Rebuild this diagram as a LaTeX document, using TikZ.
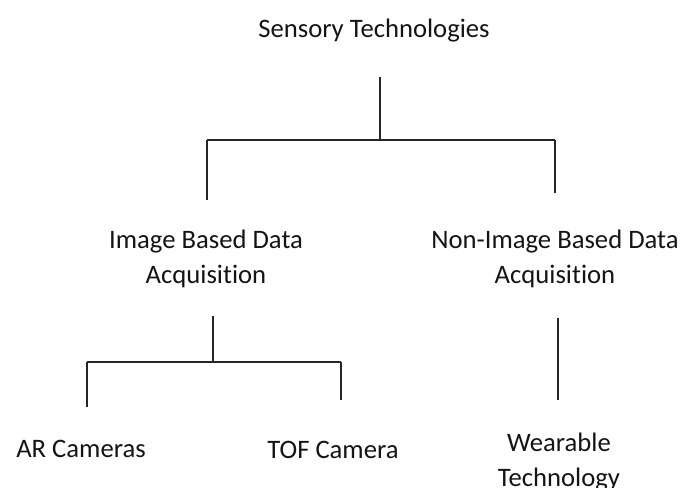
\documentclass[tikz,border=0pt]{standalone}
\usepackage{fontspec}
\setmainfont{Carlito}[Ligatures=NoCommon]
\begin{document}
\begin{tikzpicture}[x=0.75pt,y=-0.75pt,
  label text/.style={inner sep=0pt, anchor=base, align=center,
    font=\fontsize{20}{26.25}\selectfont, text=black!92},
  tree line/.style={draw=black!85, line width=1pt}]
\useasboundingbox (0,0) rectangle (681,488);

% level 0
\node[label text] (root) at (374,38) {Sensory Technologies};

% level 1 (anchored at the baseline of the last line)
\node[label text] (img) at (206,283) {Image Based Data\\Acquisition};
\node[label text] (nonimg) at (555,283) {Non-Image Based Data\\Acquisition};

% level 2
\node[label text] (ar) at (81,457) {AR Cameras};
\node[label text] (tof) at (333,458) {TOF Camera};
\node[label text] (wear) at (559,486) {Wearable\\Technology};

% junction points of the tree
\coordinate (r0) at (380,77);
\coordinate (r1) at (380,140);
\coordinate (rl) at (207,140);
\coordinate (rr) at (555,140);
\coordinate (i0) at (213,316);
\coordinate (i1) at (213,362);
\coordinate (il) at (87,362);
\coordinate (ir) at (341,362);
\coordinate (n0) at (558,318);

% root branches
\draw[tree line] (r0) -- (r1);
\draw[tree line] (rl) -- (rr);
\draw[tree line] (rl) -- (rl |- 0,200);
\draw[tree line] (rr) -- (rr |- 0,193);

% image based branches
\draw[tree line] (i0) -- (i1);
\draw[tree line] (il) -- (ir);
\draw[tree line] (il) -- (il |- 0,407);
\draw[tree line] (ir) -- (ir |- 0,400);

% non-image based branch
\draw[tree line] (n0) -- (n0 |- 0,400);
\end{tikzpicture}
\end{document}
